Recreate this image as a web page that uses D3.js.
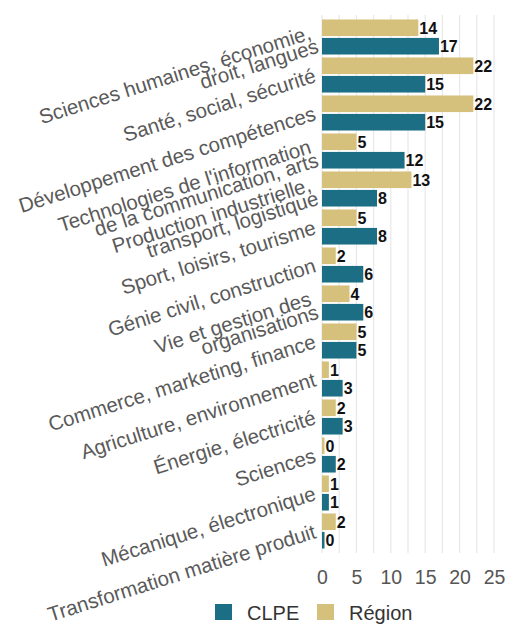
<!DOCTYPE html>
<html>
<head>
<meta charset="utf-8">
<script src="https://cdn.jsdelivr.net/npm/d3@7"></script>
<style>
  body { margin: 0; background: #fff; }
  text { font-family: "Liberation Sans", Arial, sans-serif; }
</style>
</head>
<body>
<div id="container"></div>
<script>
/* CONSTANTS AND GLOBALS */
const width = 506,
  height = 624,
  margin = { top: 18, bottom: 74, left: 322, right: 12 }

// labels with line breaks, top to bottom
const categories = [
  "Sciences humaines, économie,\ndroit, langues",
  "Santé, social, sécurité",
  "Développement des compétences",
  "Technologies de l'information\nde la communication, arts",
  "Production industrielle,\ntransport, logistique",
  "Sport, loisirs, tourisme",
  "Génie civil, construction",
  "Vie et gestion des\norganisations",
  "Commerce, marketing, finance",
  "Agriculture, environnement",
  "Énergie, électricité",
  "Sciences",
  "Mécanique, électronique",
  "Transformation matière produit"
]
const region = [14, 22, 22, 5, 13, 5, 2, 4, 5, 1, 2, 0, 1, 2]
const clpe = [17, 15, 15, 12, 8, 8, 6, 6, 5, 3, 3, 2, 1, 0]
const series = ["Région", "CLPE"]
const legendOrder = ["CLPE", "Région"]
const xTicks = [0, 5, 10, 15, 20, 25]
const gridTicks = [0, 2.5, 5, 7.5, 10, 12.5, 15, 17.5, 20, 22.5, 25]

const colors = { "CLPE": "#1c6e84", "Région": "#d5c17b" }

const data = categories.map((c, i) => ({ cat: c, "Région": region[i], "CLPE": clpe[i] }))

// + SCALES
const xScale = d3.scaleLinear()
  .domain([0, 25])
  .range([margin.left, 494])

// bars end a little above the tick labels
const yScale = d3.scaleBand()
  .domain(categories)
  .range([margin.top, height - margin.bottom])

const ySub = d3.scaleBand()
  .domain(series)
  .range([0, yScale.bandwidth()])
  .paddingInner(0.1)
  .paddingOuter(0.08)

// CREATE SVG ELEMENT
const svg = d3.select("#container")
  .append("svg")
  .attr("width", width)
  .attr("height", height)

// gridlines
svg.append("g")
  .attr("class", "grid")
  .selectAll("line")
  .data(gridTicks)
  .join("line")
  .attr("x1", d => xScale(d))
  .attr("x2", d => xScale(d))
  .attr("y1", 15)
  .attr("y2", 553)
  .attr("stroke", "#e8e8e8")
  .attr("stroke-width", 1.2)

// BARS
const groups = svg.selectAll(".cat")
  .data(data)
  .join("g")
  .attr("class", "cat")
  .attr("transform", d => `translate(0, ${yScale(d.cat)})`)

groups.selectAll("rect")
  .data(d => series.map(s => ({ key: s, value: d[s] })))
  .join("rect")
  .attr("x", xScale(0))
  .attr("y", d => ySub(d.key))
  .attr("width", d => Math.max(xScale(d.value) - xScale(0), 2.5))
  .attr("height", ySub.bandwidth())
  .attr("fill", d => colors[d.key])

// value labels
groups.selectAll(".val")
  .data(d => series.map(s => ({ key: s, value: d[s] })))
  .join("text")
  .attr("class", "val")
  .attr("x", d => Math.max(xScale(d.value), xScale(0) + 2.5) + 1)
  .attr("y", d => ySub(d.key) + ySub.bandwidth() / 2)
  .attr("dy", "0.36em")
  .style("font-family", "'Liberation Sans Narrow', 'Arial Narrow', 'Liberation Sans', sans-serif")
  .style("font-weight", "bold")
  .style("font-size", "16px")
  .attr("fill", "#111")
  .text(d => d.value)

// category labels, rotated
const labels = svg.append("g")
  .attr("class", "yLabels")
  .selectAll("text")
  .data(categories)
  .join("text")
  .attr("transform", d => `translate(315, ${yScale(d) + yScale.bandwidth() / 2}) rotate(-17.5)`)
  .attr("text-anchor", "end")
  .style("font-size", "20.5px")
  .attr("fill", "#5a5a5a")

labels.selectAll("tspan")
  .data(d => {
    const lines = d.split("\n")
    return lines.map((l, i) => ({ line: l, i: i, n: lines.length }))
  })
  .join("tspan")
  .attr("x", d => d.n === 1 ? 0 : (d.i === 0 ? -3 : 0))
  .attr("y", d => d.n === 1 ? 7 : (d.i === 0 ? 1 : 16))
  .text(d => d.line)

// x axis
const xAxis = d3.axisBottom(xScale)
  .tickValues(xTicks)
  .tickSize(0)
  .tickPadding(0)

const xAxisGroup = svg.append("g")
  .attr("class", "xAxis")
  .attr("transform", `translate(0, 570)`)
  .call(xAxis)

xAxisGroup.select(".domain").remove()
xAxisGroup.selectAll("text")
  .attr("dy", "0.71em")
  .style("font-family", "'Liberation Sans', Arial, sans-serif")
  .style("font-size", "19.5px")
  .attr("fill", "#555")

// legend
const legend = svg.append("g")
  .attr("class", "legend")
  .attr("transform", "translate(215, 604)")

const legendX = d3.scalePoint()
  .domain(legendOrder)
  .range([0, 102])

const items = legend.selectAll("g")
  .data(legendOrder)
  .join("g")
  .attr("transform", d => `translate(${legendX(d)}, 0)`)

items.append("rect")
  .attr("width", 17)
  .attr("height", 16)
  .attr("fill", d => colors[d])

items.append("text")
  .attr("x", 32)
  .attr("y", 16)
  .style("font-size", "20px")
  .attr("fill", "#333")
  .text(d => d)
</script>
</body>
</html>
